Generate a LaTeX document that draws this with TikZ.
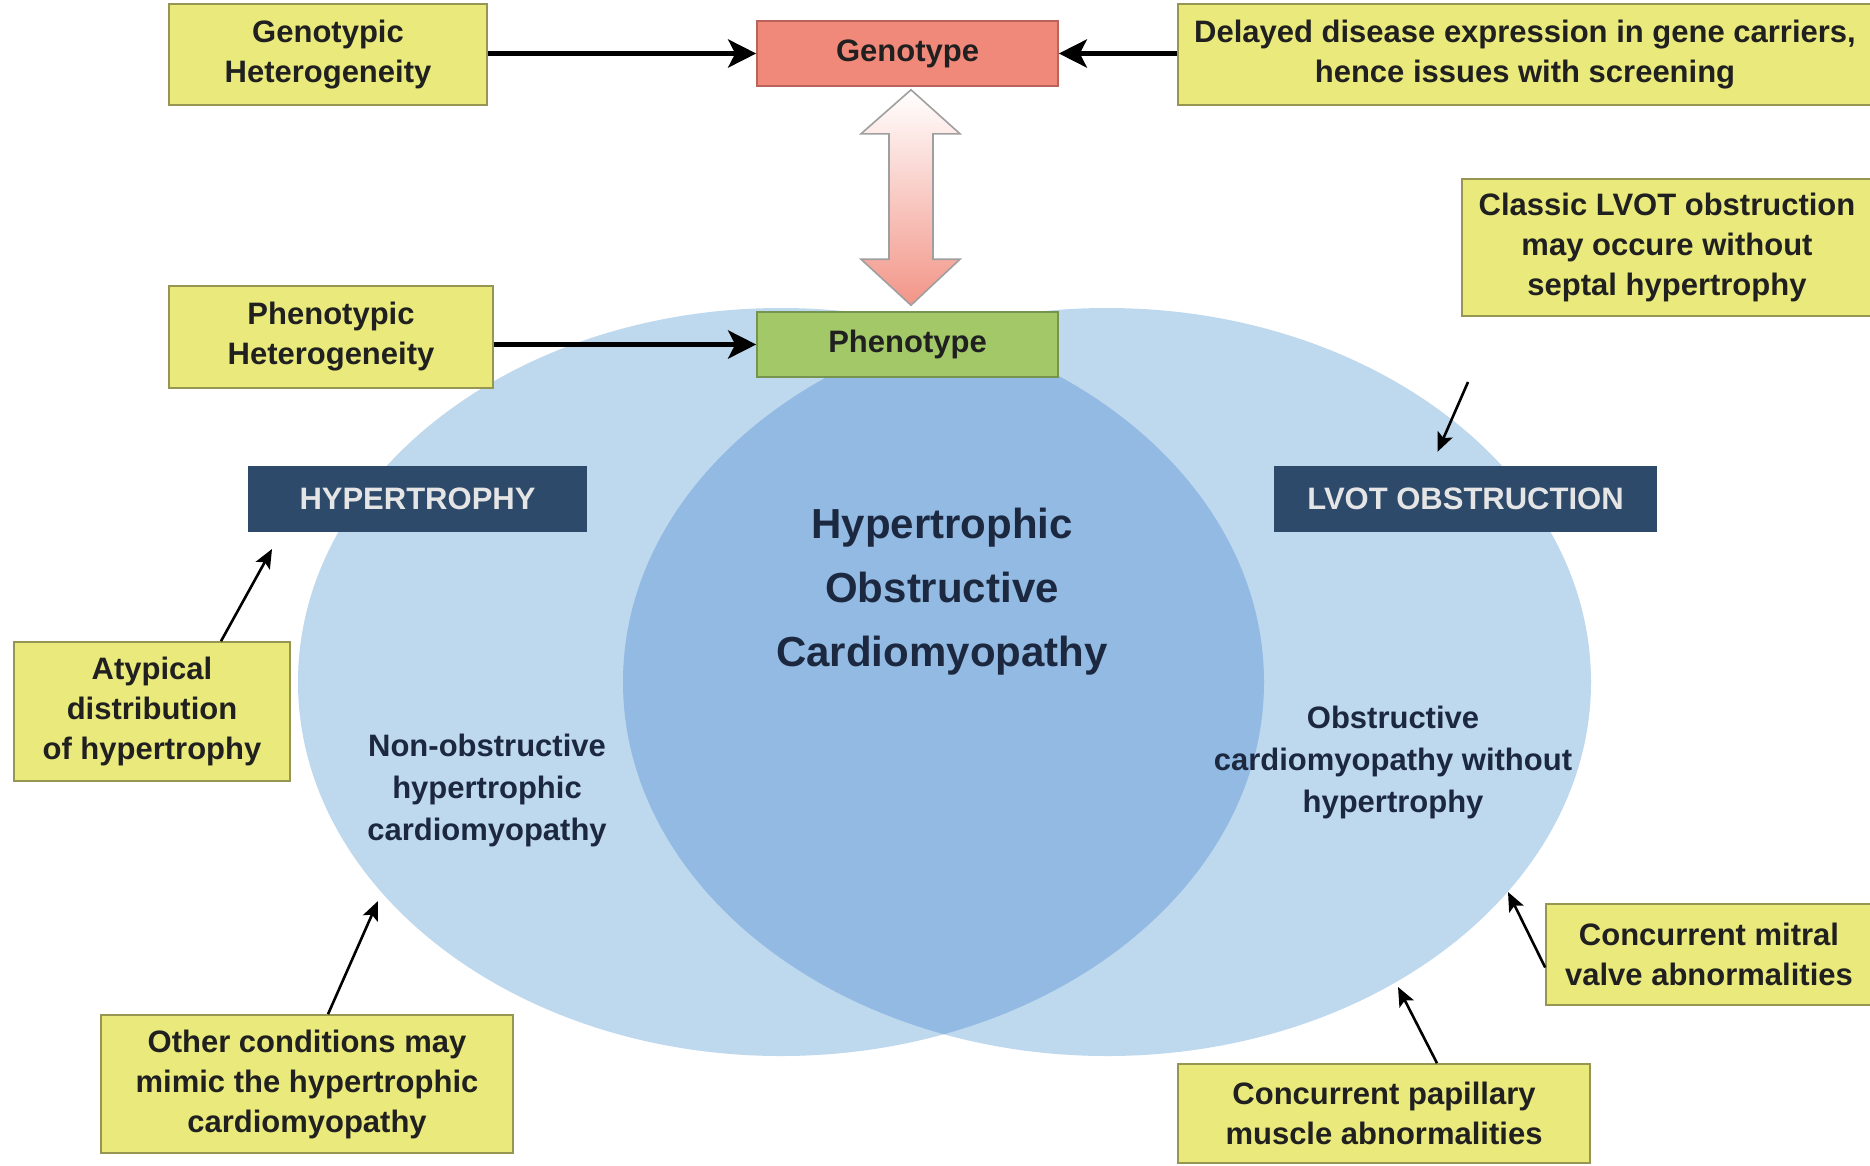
\documentclass[tikz,border=0pt]{standalone}
\usepackage{fontspec}
\setmainfont{Liberation Sans}
\usetikzlibrary{arrows.meta,calc}
\definecolor{yfill}{RGB}{234,234,124}
\definecolor{yborder}{RGB}{150,150,82}
\definecolor{salmonf}{RGB}{241,137,122}
\definecolor{salmonb}{RGB}{185,100,90}
\definecolor{pgreen}{RGB}{163,200,104}
\definecolor{pgreenb}{RGB}{118,148,80}
\definecolor{navybox}{RGB}{46,74,106}
\definecolor{lblue}{RGB}{190,216,238}
\definecolor{dblue}{RGB}{146,186,226}
\definecolor{txt}{RGB}{32,32,32}
\definecolor{etxt}{RGB}{28,40,64}
\begin{document}
\begin{tikzpicture}[x=1pt,y=-1pt,
  yellowbox/.style={draw=yborder, line width=1.6pt, fill=yfill, align=center, inner sep=0pt,
    font=\fontsize{31}{40}\selectfont\bfseries, text=txt},
  genobox/.style={draw=salmonb, line width=1.6pt, fill=salmonf, inner sep=0pt,
    minimum width=301pt, minimum height=65pt, font=\fontsize{31}{40}\selectfont\bfseries, text=txt},
  phenobox/.style={draw=pgreenb, line width=1.6pt, fill=pgreen, inner sep=0pt,
    minimum width=301pt, minimum height=65pt, font=\fontsize{31}{40}\selectfont\bfseries, text=txt},
  darkbox/.style={fill=navybox, inner sep=0pt, minimum height=66pt,
    font=\fontsize{31}{40}\selectfont\bfseries, text=white!90!black},
  elltext/.style={align=center, font=\fontsize{31}{42}\selectfont\bfseries, text=etxt},
  bigarrow/.style={line width=5pt, -{Stealth[length=28pt,width=28pt,inset=7pt]}},
  thinarrow/.style={line width=2.6pt, -{Stealth[length=19pt,width=16pt,inset=4pt]}}
]
\useasboundingbox[fill=white] (0,0) rectangle (1870,1165);

% Venn ellipses
\fill[lblue] (781,682) ellipse [x radius=483, y radius=374];
\fill[lblue] (1107,682) ellipse [x radius=484, y radius=374];
\begin{scope}
  \clip (781,682) ellipse [x radius=483, y radius=374];
  \fill[dblue] (1107,682) ellipse [x radius=484, y radius=374];
\end{scope}

% boxes
\node[yellowbox, minimum width=318pt, minimum height=101pt] (gh) at (328,54.5) {Genotypic\\Heterogeneity};
\node[genobox] (geno) at (907.5,53.5) {Genotype};
\node[yellowbox, minimum width=694pt, minimum height=101pt] (delayed) at (1525,54.5) {Delayed disease expression in gene carriers,\\hence issues with screening};
\node[yellowbox, minimum width=324pt, minimum height=102pt] (pheh) at (331,337) {Phenotypic\\Heterogeneity};
\node[phenobox] (pheno) at (907.5,344.5) {Phenotype};
\node[yellowbox, minimum width=410pt, minimum height=137pt] (classic) at (1667,247.5) {Classic LVOT obstruction\\may occure without\\septal hypertrophy};
\node[darkbox, minimum width=339pt] (hyp) at (417.5,499) {HYPERTROPHY};
\node[darkbox, minimum width=383pt] (lvot) at (1465.5,499) {LVOT OBSTRUCTION};
\node[yellowbox, minimum width=276pt, minimum height=139pt] (atyp) at (152,711.5) {Atypical\\distribution\\of hypertrophy};
\node[yellowbox, minimum width=412pt, minimum height=138pt] (other) at (307,1084) {Other conditions may\\mimic the hypertrophic\\cardiomyopathy};
\node[yellowbox, minimum width=326pt, minimum height=101pt] (mitral) at (1709,954.5) {Concurrent mitral\\valve abnormalities};
\node[yellowbox, minimum width=412pt, minimum height=99pt] (papil) at (1384,1113.5) {Concurrent papillary\\muscle abnormalities};

% ellipse texts
\node[elltext, font=\fontsize{42}{64}\selectfont\bfseries] (hocm) at (942,592) {Hypertrophic\\Obstructive\\Cardiomyopathy};
\node[elltext] (nonobs) at (487,790) {Non-obstructive\\hypertrophic\\cardiomyopathy};
\node[elltext] (obs) at (1393,762) {Obstructive\\cardiomyopathy without\\hypertrophy};

% thick arrows
\draw[bigarrow] (gh.east |- geno.west) -- (geno.west);
\draw[bigarrow] (delayed.west |- geno.east) -- (geno.east);
\draw[bigarrow] (pheh.east |- pheno.west) -- (pheno.west);

% double hollow arrow
\coordinate (dt) at ($(geno.south)+(3.5,3)$);
\coordinate (db) at ($(pheno.north)+(3.5,-6)$);
\shadedraw[top color=white, bottom color=salmonf!90, draw=gray!75, line width=1.6pt, line join=miter]
  (dt) -- ($(dt)+(49,44)$) -- ($(dt)+(22,44)$) -- ($(db)+(22,-46)$) -- ($(db)+(49,-46)$)
  -- (db) -- ($(db)+(-50,-46)$) -- ($(db)+(-22,-46)$) -- ($(dt)+(-22,44)$) -- ($(dt)+(-50,44)$) -- cycle;

% thin arrows
\coordinate (clsrc) at (1468,382);
\draw[thinarrow] (clsrc) -- ([xshift=-28pt,yshift=14pt]lvot.north);
\coordinate (hypin) at (272,549);
\draw[thinarrow] ([xshift=69pt]atyp.north) -- (hypin);
\coordinate (othin) at (378,901);
\draw[thinarrow] ([xshift=21pt]other.north) -- (othin);
\coordinate (mitin) at (1508,892);
\draw[thinarrow] ([yshift=-13pt]mitral.west) -- (mitin);
\coordinate (papin) at (1398,987);
\draw[thinarrow] ([xshift=53pt]papil.north) -- (papin);
\end{tikzpicture}
\end{document}
